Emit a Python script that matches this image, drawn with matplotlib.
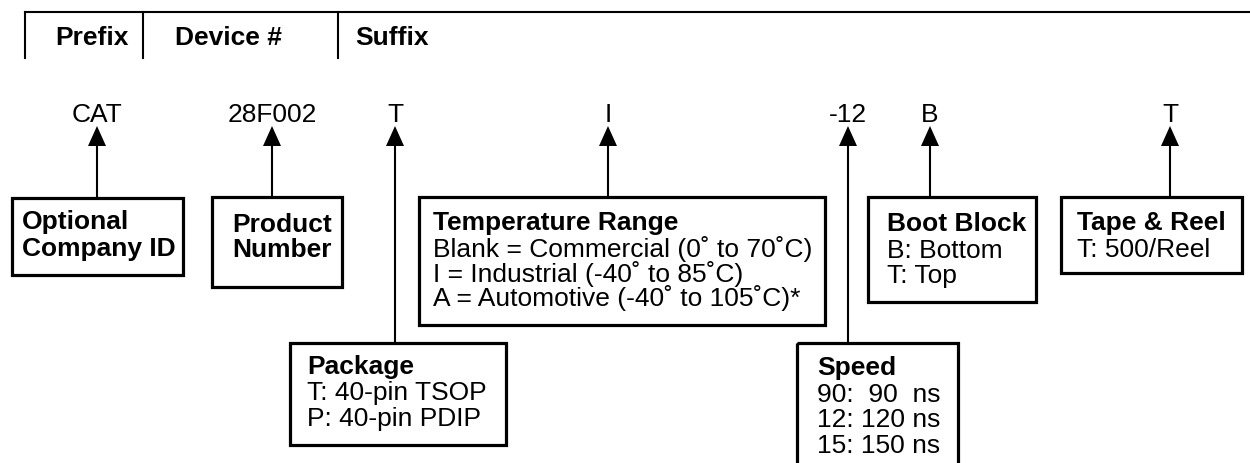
import matplotlib.pyplot as plt
from matplotlib.patches import Rectangle

plt.rcParams['font.family'] = ['Liberation Sans', 'DejaVu Sans']

# header row
header_labels = ['Prefix', 'Device #', 'Suffix']
header_x = [92, 228, 355]
header_align = ['center', 'center', 'left']
header_dividers = [25, 143, 338]

# part number pieces and where their arrows sit
codes = ['CAT', '28F002', 'T', 'I', '-12', 'B', 'T']
code_x = [97, 272, 395, 608, 848, 930, 1170]

# boxes: (left, top, right, bottom)
box_titles = ['Optional\nCompany ID', 'Product\nNumber', 'Package', 'Temperature Range',
              'Speed', 'Boot Block', 'Tape & Reel']
box_lines = [
    [],
    [],
    ['T: 40-pin TSOP', 'P: 40-pin PDIP'],
    ['Blank = Commercial (0˚ to 70˚C)', 'I = Industrial (-40˚ to 85˚C)',
     'A = Automotive (-40˚ to 105˚C)*'],
    ['90:  90  ns', '12: 120 ns', '15: 150 ns'],
    ['B: Bottom', 'T: Top'],
    ['T: 500/Reel'],
]
box_rect = [(12, 198, 183, 275), (212, 197, 342, 287), (290, 343, 506, 445),
            (419, 197, 825, 325), (797, 343, 958, 475), (868, 197, 1036, 302),
            (1061, 197, 1242, 273)]
box_text_x = [22, 232, 307, 433, 817, 887, 1077]
box_baselines = [[229, 256], [232, 257], [374, 400, 426], [230, 257, 282, 306],
                 [375, 402, 427, 453], [231, 258, 283], [230, 257]]

FS = 19

fig = plt.figure(figsize=(12.5, 4.63), dpi=100)
ax = fig.add_axes([0, 0, 1, 1])
ax.set_xlim(0, 1250)
ax.set_ylim(463, 0)
ax.axis('off')

# header
ax.plot([25, 1250], [12, 12], color='k', lw=1.5)
for x in header_dividers:
    ax.plot([x, x], [12, 58], color='k', lw=1.5)
for lab, x, ha in zip(header_labels, header_x, header_align):
    ax.text(x, 45, lab, ha=ha, va='baseline', fontsize=FS, fontweight='bold')

# codes + arrows down to each box
for code, x, rect in zip(codes, code_x, box_rect):
    ax.text(x, 122, code, ha='center', va='baseline', fontsize=FS)
    ax.fill([x - 9, x + 9, x], [146, 146, 126], color='k', lw=0)
    ax.plot([x, x], [145, rect[1]], color='k', lw=1.5, solid_capstyle='butt')

# boxes
for title, lines, rect, tx, bls in zip(box_titles, box_lines, box_rect,
                                       box_text_x, box_baselines):
    l, t, r, b = rect
    ax.add_patch(Rectangle((l, t), r - l, b - t, fill=False, ec='k', lw=2.3,
                           joinstyle='miter', clip_on=False))
    tparts = title.split('\n')
    for i, s in enumerate(tparts):
        ax.text(tx, bls[i], s, ha='left', va='baseline', fontsize=FS, fontweight='bold')
    for j, s in enumerate(lines):
        ax.text(tx, bls[len(tparts) + j], s, ha='left', va='baseline', fontsize=FS)

fig.savefig('out.png', dpi=100)
